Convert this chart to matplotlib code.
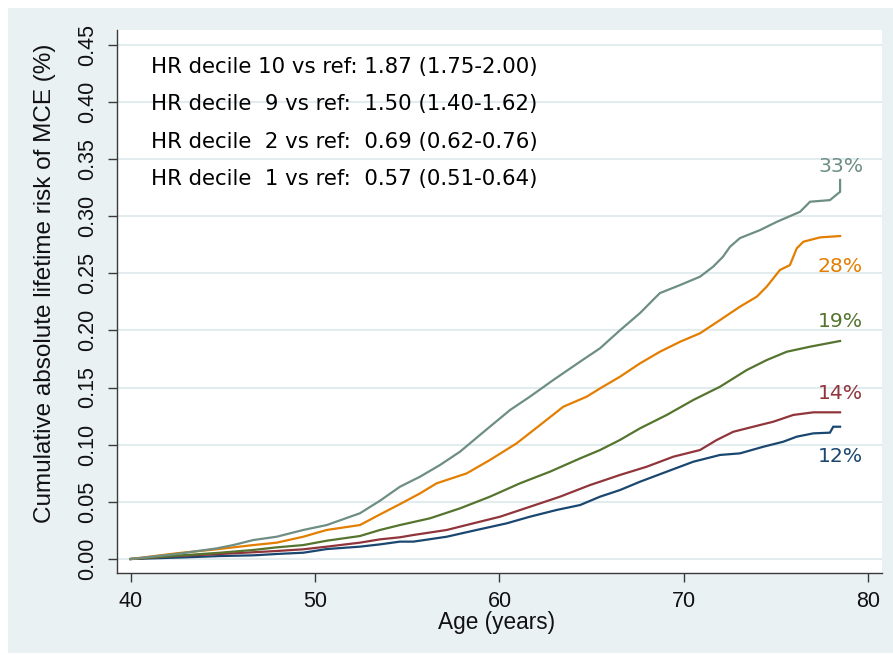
import matplotlib
matplotlib.use("Agg")
import matplotlib.pyplot as plt
from matplotlib.patches import Rectangle
from matplotlib.ticker import FormatStrFormatter

# cumulative risk curves (age, risk)
age_d10 = [40.0, 42.49, 44.66, 45.56, 46.65, 47.92, 49.36, 50.63, 52.43, 53.52, 54.60,
           55.69, 56.77, 57.86, 58.94, 60.57, 61.65, 62.92, 64.37, 65.45, 66.53, 67.62,
           68.32, 68.70, 69.79, 70.87, 71.58, 72.12, 72.50, 73.04, 74.13, 75.05, 76.30,
           76.84, 77.92, 78.47, 78.47]
risk_d10 = [0.0, 0.0044, 0.0093, 0.0122, 0.0166, 0.0195, 0.0254, 0.0297, 0.0400, 0.0510,
            0.0632, 0.0720, 0.0822, 0.0939, 0.1085, 0.1303, 0.1420, 0.1566, 0.1726, 0.1843,
            0.2000, 0.2151, 0.2265, 0.2326, 0.2396, 0.2469, 0.2556, 0.2644, 0.2731, 0.2807,
            0.2877, 0.2950, 0.3037, 0.3125, 0.3139, 0.3212, 0.3315]

age_d9 = [40.0, 42.49, 44.66, 46.65, 47.92, 49.36, 50.63, 52.43, 53.52, 54.60, 55.69,
          56.59, 58.22, 59.48, 60.93, 62.20, 63.46, 64.73, 65.45, 66.53, 67.62, 68.70,
          69.79, 70.87, 71.96, 73.04, 73.95, 74.49, 75.21, 75.75, 76.12, 76.48, 77.38,
          78.47]
risk_d9 = [0.0, 0.0050, 0.0085, 0.0122, 0.0143, 0.0195, 0.0254, 0.0297, 0.0390, 0.0480,
           0.0574, 0.0662, 0.0749, 0.0866, 0.1012, 0.1172, 0.1332, 0.1420, 0.1492, 0.1594,
           0.1711, 0.1813, 0.1900, 0.1974, 0.2090, 0.2207, 0.2294, 0.2382, 0.2528, 0.2571,
           0.2717, 0.2775, 0.2813, 0.2825]

age_ref = [40.0, 43.04, 44.84, 46.65, 47.92, 49.36, 50.63, 52.43, 53.52, 54.60, 56.23,
           57.86, 59.48, 61.11, 62.74, 64.37, 65.45, 66.53, 67.62, 69.07, 70.51, 71.96,
           73.41, 74.49, 75.58, 76.84, 78.47]
risk_ref = [0.0, 0.0035, 0.0055, 0.0079, 0.0102, 0.0122, 0.0160, 0.0201, 0.0254, 0.0297,
            0.0356, 0.0443, 0.0545, 0.0662, 0.0764, 0.0880, 0.0953, 0.1041, 0.1143, 0.1260,
            0.1391, 0.1507, 0.1653, 0.1740, 0.1813, 0.1857, 0.1907]

age_d2 = [40.0, 42.49, 44.84, 46.65, 47.92, 49.36, 50.63, 52.43, 53.52, 54.60, 55.33,
          57.14, 58.58, 60.03, 61.65, 63.28, 64.91, 65.45, 66.53, 67.98, 69.43, 70.87,
          71.78, 72.68, 73.76, 74.85, 75.93, 77.02, 78.47]
risk_d2 = [0.0, 0.0026, 0.0044, 0.0059, 0.0070, 0.0085, 0.0108, 0.0143, 0.0172, 0.0190,
           0.0210, 0.0254, 0.0312, 0.0370, 0.0457, 0.0545, 0.0647, 0.0676, 0.0735, 0.0807,
           0.0895, 0.0953, 0.1041, 0.1113, 0.1157, 0.1201, 0.1260, 0.1283, 0.1283]

age_d1 = [40.0, 43.04, 44.84, 46.65, 47.92, 49.36, 50.63, 52.43, 53.52, 54.60, 55.33,
          57.14, 58.76, 60.39, 61.65, 63.10, 64.37, 65.45, 66.53, 67.62, 69.07, 70.51,
          71.96, 73.04, 74.31, 75.39, 76.12, 77.02, 77.92, 78.10, 78.47]
risk_d1 = [0.0, 0.0015, 0.0026, 0.0032, 0.0044, 0.0055, 0.0087, 0.0108, 0.0128, 0.0152,
           0.0152, 0.0195, 0.0254, 0.0312, 0.0370, 0.0429, 0.0472, 0.0545, 0.0603, 0.0676,
           0.0764, 0.0851, 0.0910, 0.0924, 0.0982, 0.1026, 0.1070, 0.1099, 0.1105, 0.1157,
           0.1157]

end_labels = ["33%", "28%", "19%", "14%", "12%"]
end_label_y = [0.343, 0.2556, 0.2075, 0.1449, 0.0895]

hr_lines = ["HR decile 10 vs ref: 1.87 (1.75-2.00)",
            "HR decile  9 vs ref:  1.50 (1.40-1.62)",
            "HR decile  2 vs ref:  0.69 (0.62-0.76)",
            "HR decile  1 vs ref:  0.57 (0.51-0.64)"]

x_ticks = [40, 50, 60, 70, 80]
y_ticks = [0.00, 0.05, 0.10, 0.15, 0.20, 0.25, 0.30, 0.35, 0.40, 0.45]

COLORS = ["#6e8e84", "#e37e00", "#55752f", "#90353b", "#1a476f"]
BG = "#eaf1f3"
GRID = "#e2ebee"

W, H = 893, 655
fig = plt.figure(figsize=(W / 100, H / 100), dpi=100, facecolor="white")
fig.patches.append(Rectangle((8 / W, 2 / H), (W - 8) / W, (653 - 8) / H,
                             transform=fig.transFigure, facecolor=BG,
                             edgecolor="none", zorder=-10))

ax = fig.add_axes([116.7 / W, (H - 573.3) / H, (882.3 - 116.7) / W, 543.3 / H])
ax.set_facecolor("white")

series = [(age_d10, risk_d10), (age_d9, risk_d9), (age_ref, risk_ref),
          (age_d2, risk_d2), (age_d1, risk_d1)]
# draw bottom-most first so the upper curves sit on top like the original
for (a, r), c in reversed(list(zip(series, COLORS))):
    ax.plot(a, r, color=c, lw=1.6, solid_joinstyle="miter")

for lab, yv, c in zip(end_labels, end_label_y, COLORS):
    ax.text(79.72, yv, lab, color=c, fontsize=14.7, ha="right", va="center",
            family="DejaVu Sans")

line_y = [0.9325, 0.8637, 0.7944, 0.7252]
for txt, yy in zip(hr_lines, line_y):
    ax.text(0.0448, yy, txt, transform=ax.transAxes, fontsize=15.3,
            ha="left", va="center", color="black", family="DejaVu Sans")

ax.set_xlim(39.24, 80.76)
ax.set_ylim(-0.0125, 0.4627)
ax.set_xticks(x_ticks)
ax.set_yticks(y_ticks)
ax.yaxis.set_major_formatter(FormatStrFormatter("%.2f"))
ax.grid(axis="y", color=GRID, lw=1.5)
ax.set_axisbelow(True)

for s in ["top", "right"]:
    ax.spines[s].set_visible(False)
for s in ["left", "bottom"]:
    ax.spines[s].set_color("#3a3a3a")
    ax.spines[s].set_linewidth(1.0)

ax.tick_params(axis="both", length=6.5, width=1.0, color="#3a3a3a",
               labelsize=15.5, labelcolor="#111111")
ax.tick_params(axis="y", labelrotation=90, pad=7)
ax.tick_params(axis="x", pad=6)
for lbl in ax.get_xticklabels() + ax.get_yticklabels():
    lbl.set_family("Liberation Sans")
for lbl in ax.get_yticklabels():
    lbl.set_va("center")

fig.text(45 / W, 1 - 283 / H, "Cumulative absolute lifetime risk of MCE (%)",
         rotation=90, ha="center", va="center", fontsize=17.5,
         family="Liberation Sans", color="#111111")
fig.text(497 / W, 1 - 622 / H, "Age (years)", ha="center", va="center",
         fontsize=16.3, family="Liberation Sans", color="#111111")

fig.savefig("out.png", dpi=100, facecolor="white")
